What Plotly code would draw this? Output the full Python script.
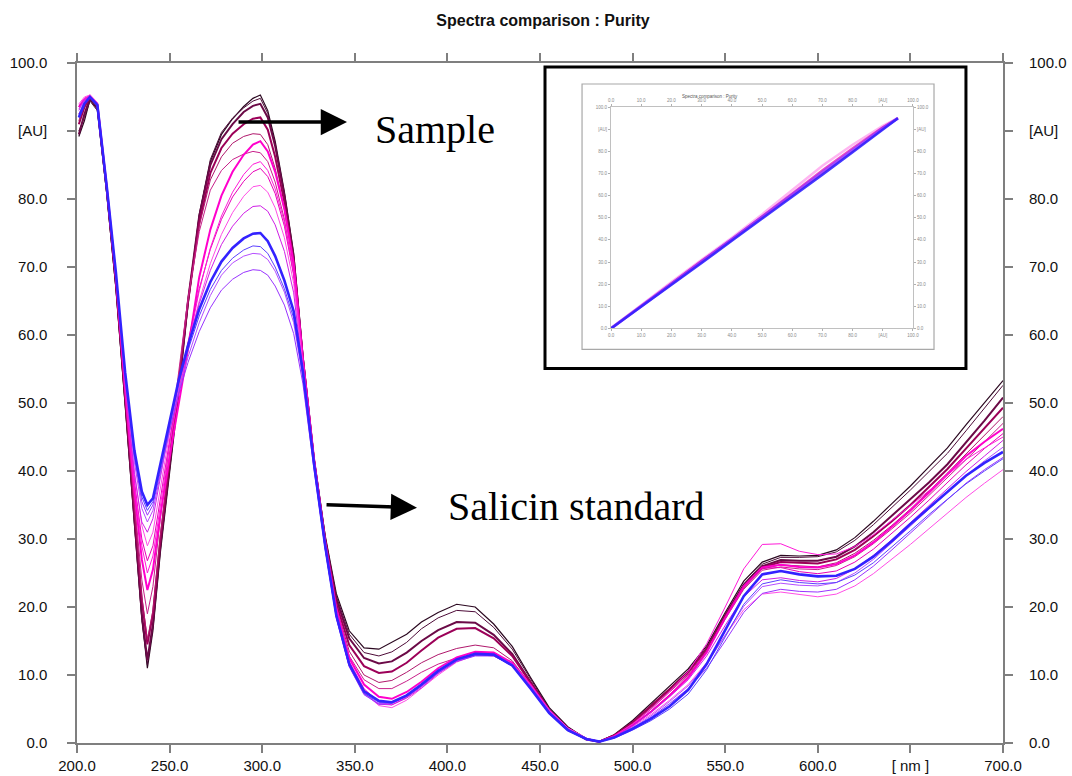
import plotly.graph_objects as go

# ---------------- data ----------------
wavelength = [201, 204, 207, 211, 216, 221, 226, 231, 235, 238, 241, 245, 250, 255, 260, 266, 272, 278, 284, 290,
              295, 299, 303, 307, 312, 317, 322, 328, 334, 340, 347, 355, 363, 370, 378, 386, 395, 405, 415, 425,
              435, 445, 455, 465, 475, 482, 490, 500, 510, 520, 530, 540, 550, 560, 570, 580, 590, 600, 610, 620,
              630, 640, 650, 660, 670, 680, 690, 700]

sample_d1 = [89.2, 91.5, 94.6, 93.2, 81, 67, 50, 32, 18.5, 11, 16.5, 28, 39.5, 51.5, 64.5, 77.5, 85.5, 89.5, 91.8, 93.6,
             94.8, 95.3, 93, 88.5, 81, 72, 57, 42, 30.5, 22, 16.5, 14, 13.8, 14.8, 16, 17.8, 19.2, 20.4, 20, 17.5,
             14.2, 9.6, 5.2, 2.4, 0.6, 0.2, 1.2, 3.3, 5.8, 8.3, 10.9, 14.3, 19.2, 23.8, 26.6, 27.6, 27.5, 27.6, 28.4, 30.2,
             32.6, 35.2, 37.8, 40.6, 43.4, 46.8, 50.1, 53.3]
sample_d2 = [90, 92, 94.4, 93, 80.8, 66.8, 49.5, 31.5, 18, 11.5, 17, 28.5, 40, 52, 65, 77.8, 85.8, 89.8, 91.9, 93.4,
             94.4, 94.8, 92.6, 88, 80.6, 71.5, 56.8, 41.8, 30.2, 21.6, 16, 13.3, 12.8, 13.4, 14.8, 16.8, 18.4, 19.5, 19.3, 17,
             13.8, 9.3, 5, 2.3, 0.6, 0.2, 1.1, 3.1, 5.5, 8, 10.6, 14, 18.9, 23.4, 26.3, 27.3, 27.3, 27.4, 28.1, 29.8,
             32.1, 34.6, 37.2, 39.9, 42.6, 45.9, 49.2, 52.6]
sample_d3 = [89.5, 92.5, 94.8, 93.5, 81.5, 67.5, 50.5, 32.5, 19, 12.2, 17.5, 29, 40.5, 52.5, 65.2, 77.5, 85, 88.8, 91, 92.8,
             93.7, 94, 92, 87.8, 80.5, 71.4, 56.5, 41.5, 30, 21.2, 15.4, 12.5, 11.7, 12, 13.3, 15, 16.6, 17.8, 17.7, 15.9,
             13.1, 8.9, 4.8, 2.2, 0.6, 0.2, 1.1, 3, 5.4, 7.9, 10.5, 13.9, 18.8, 23.2, 26, 26.9, 26.8, 26.8, 27.4, 28.9,
             31, 33.4, 35.8, 38.3, 41, 44.2, 47.4, 50.8]
sample_c1 = [91, 93.5, 95, 93.8, 81.8, 68, 51, 34, 21, 14.5, 19, 30, 41.5, 53, 65, 76.5, 83.8, 87.5, 89.6, 91,
             91.8, 92, 90.2, 86.2, 79.5, 70.8, 56.3, 41.5, 29.8, 20.5, 14.4, 11.3, 10.3, 10.5, 11.8, 13.6, 15.5, 16.8, 16.9, 15.4,
             12.8, 8.8, 4.8, 2.1, 0.5, 0.2, 1.1, 3, 5.4, 7.9, 10.4, 13.8, 18.6, 23, 25.8, 26.6, 26.5, 26.4, 27, 28.4,
             30.4, 32.6, 35, 37.6, 40.3, 43.3, 46.3, 49.3]
sample_c2 = [91.5, 93.8, 95, 93.6, 81.6, 67.8, 51, 34.5, 21.5, 15.2, 19.5, 30.5, 42, 53.5, 65, 76, 82.8, 86.2, 88.2, 89.2,
             89.6, 89.5, 88, 84.5, 78.4, 70, 56, 41.3, 29.5, 20, 13.5, 10, 8.9, 9.2, 10.4, 11.8, 13, 13.9, 14.4, 14,
             12.1, 8.5, 4.7, 2.1, 0.5, 0.2, 1, 2.9, 5.2, 7.7, 10.2, 13.6, 18.4, 22.8, 25.6, 26.2, 26, 25.9, 26.5, 27.9,
             29.8, 32, 34.4, 37, 39.7, 42.5, 45.2, 48]
sample_c3 = [92.5, 94, 95, 93.8, 81.8, 68.2, 51.5, 35.5, 24, 19, 23, 33, 44, 55, 65.5, 75.2, 81.3, 84.2, 85.8, 86.6,
             87, 86.8, 85.5, 82.5, 77, 69, 55.5, 41, 29, 19.4, 12.8, 9.3, 8, 8, 9.1, 10.4, 11.6, 12.5, 13, 12.8,
             11.4, 8.2, 4.6, 2, 0.5, 0.2, 1, 2.8, 5, 7.5, 10, 13.4, 18.2, 22.6, 25.4, 25.9, 25.6, 25.5, 26.1, 27.4,
             29.3, 31.5, 33.8, 36.4, 39, 41.7, 44.3, 47]
sample_m1 = [93.5, 94.5, 95.2, 94, 82, 68.5, 52, 37, 27, 22.5, 25.5, 33.5, 42, 50, 58, 68.5, 75.5, 80.5, 84, 86.5,
             88, 88.5, 87, 84, 78.5, 70.5, 56.5, 41.8, 29.6, 19.8, 12.5, 8.6, 6.8, 6.5, 7.5, 9, 11, 12.6, 13.4, 13.3,
             11.8, 8.5, 4.8, 2.1, 0.6, 0.2, 1, 2.6, 4.6, 7, 9.6, 13.3, 18.4, 23, 25.8, 26.2, 25.9, 25.8, 26.3, 27.6,
             29.5, 31.8, 34.2, 36.8, 39.5, 42.2, 44.3, 46.2]
sample_m5 = [93.6, 94.8, 95.2, 94, 82, 68.6, 52.8, 38.5, 30, 26.8, 29, 36, 44.5, 52, 59, 66.8, 72.6, 77, 80.3, 82.6,
             84, 84.5, 83.3, 80.8, 76, 68.8, 55.6, 41.2, 29.1, 19.1, 11.8, 7.8, 6.2, 6, 7, 8.6, 10.6, 12.3, 13.2, 13.1,
             11.7, 8.4, 4.7, 2.1, 0.6, 0.2, 1, 2.6, 4.7, 7.1, 9.8, 13.5, 18.4, 23.2, 25.7, 25.8, 25.2, 24.9, 25.3, 26.6,
             28.5, 30.8, 33.2, 35.7, 38.3, 40.9, 43.3, 45.5]
sample_m2 = [93.8, 94.8, 95.2, 94, 82, 68.5, 52.5, 38, 29, 25, 27.5, 35, 44, 51.5, 58.5, 66.5, 72.8, 77.5, 81, 83.6,
             85.1, 85.5, 84.2, 81.5, 76.6, 69.2, 55.8, 41.3, 29.2, 19.3, 12, 8, 6, 5.6, 6.7, 8.3, 10.4, 12.2, 13.1, 13.1,
             11.7, 8.5, 4.8, 2.2, 0.7, 0.2, 1, 2.8, 5, 7.6, 10.5, 14.6, 20, 25.6, 29.2, 29.3, 28.2, 27.7, 27.8, 28.9,
             30.6, 32.7, 34.9, 37.1, 39.4, 41.7, 43.4, 45]
sample_m3 = [94, 95, 95.3, 94.2, 82.3, 69, 53.5, 40, 32, 29, 31, 37.5, 45.5, 52.5, 58.5, 65, 70.5, 74.8, 78, 80.4,
             81.8, 82, 81, 78.7, 74.3, 67.6, 55, 40.8, 28.8, 18.8, 11.5, 7.4, 5.5, 5.2, 6.3, 8, 10, 11.9, 12.9, 12.9,
             11.6, 8.4, 4.8, 2.2, 0.7, 0.2, 0.9, 2.4, 4.2, 6.3, 8.6, 11.8, 15.8, 19.6, 21.9, 22.2, 21.8, 21.5, 21.9, 23.1,
             24.9, 27, 29.2, 31.5, 33.8, 36.1, 38.2, 40.2]
sample_m4 = [93.2, 94.6, 95.1, 94, 82, 68.8, 53, 39.5, 32.5, 31, 33, 39, 46.5, 53, 58.8, 64.6, 69.5, 73.3, 76, 77.9,
             78.9, 79, 78.2, 76.2, 72.3, 66.2, 54.2, 40.5, 28.6, 18.6, 11.3, 7.3, 5.7, 5.6, 6.6, 8.1, 10.2, 12, 13, 13,
             11.6, 8.4, 4.7, 2.1, 0.6, 0.2, 0.9, 2.5, 4.5, 6.8, 9.3, 12.8, 17.3, 21.5, 24, 24.3, 23.9, 23.7, 24.2, 25.6,
             27.6, 29.9, 32.4, 34.9, 37.4, 39.9, 42.2, 44.5]
standard_p2 = [93, 94.4, 95, 93.9, 82, 69, 53.8, 41.3, 34.5, 32.5, 34.2, 39.5, 46, 52, 56.8, 61.8, 65.8, 68.8, 70.6, 71.6,
               72, 71.9, 71.1, 69.4, 66.3, 61.8, 53.6, 40.5, 28.6, 18.5, 11.3, 7.2, 5.8, 5.9, 6.9, 8.4, 10.4, 12.1, 12.9, 12.9,
               11.5, 8.2, 4.6, 2, 0.6, 0.2, 0.8, 2.2, 4, 6.1, 8.4, 11.6, 15.8, 20.1, 23, 23.5, 23.2, 23.1, 23.6, 25,
               27, 29.4, 31.9, 34.4, 36.9, 39.3, 41.5, 43.5]
standard_p1 = [92.5, 94.2, 95, 93.8, 82, 69, 54, 42, 35.5, 33.5, 35, 40, 46, 51.5, 56, 60.5, 64, 66.6, 68.2, 69.2,
               69.6, 69.5, 68.8, 67.2, 64.4, 60.2, 52.8, 40.2, 28.5, 18.4, 11.2, 7.1, 5.7, 5.8, 6.8, 8.3, 10.3, 12, 12.8, 12.8,
               11.4, 8.1, 4.5, 2, 0.5, 0.2, 0.8, 2.1, 3.8, 5.8, 8, 11, 15, 19.2, 22, 22.6, 22.3, 22.2, 22.6, 24,
               26, 28.4, 30.9, 33.4, 35.8, 38.2, 40.2, 42]
standard_b2 = [92.3, 94.2, 95, 93.8, 82, 69, 54.2, 42.5, 36.2, 34.2, 35.5, 40.5, 47, 53, 57.8, 62.8, 66.7, 69.5, 71.3, 72.5,
               73.1, 73, 72, 70, 66.8, 62.5, 54.2, 40.8, 28.8, 18.6, 11.4, 7.3, 6, 5.9, 6.9, 8.5, 10.5, 12.2, 13, 12.9,
               11.3, 7.9, 4.3, 1.8, 0.5, 0.2, 0.7, 1.9, 3.3, 5, 7.2, 10.8, 15.6, 20.4, 23.4, 24, 23.6, 23.4, 23.6, 24.7,
               26.5, 28.8, 31.2, 33.6, 35.9, 38.1, 40, 41.8]
standard_b1 = [92, 94, 95, 93.8, 82, 69.2, 54.5, 43, 37, 35, 36, 41, 47.5, 53.5, 58.5, 63.8, 67.8, 70.8, 72.8, 74.2,
               74.9, 75, 73.8, 71.6, 68, 63.5, 54.6, 41, 29, 18.8, 11.6, 7.6, 6.2, 6, 7, 8.6, 10.6, 12.3, 13.1, 13,
               11.4, 8, 4.4, 1.9, 0.6, 0.2, 0.8, 2.1, 3.6, 5.4, 7.8, 11.6, 16.6, 21.6, 24.8, 25.3, 24.8, 24.5, 24.6, 25.6,
               27.4, 29.7, 32.2, 34.6, 37, 39.3, 41.2, 42.8]

x_tickvals = [200, 250, 300, 350, 400, 450, 500, 550, 600, 650, 700]
x_ticktext = ["200.0", "250.0", "300.0", "350.0", "400.0", "450.0", "500.0", "550.0", "600.0", "[ nm ]", "700.0"]
y_tickvals = [0, 10, 20, 30, 40, 50, 60, 70, 80, 90, 100]
y_ticktext = ["0.0", "10.0", "20.0", "30.0", "40.0", "50.0", "60.0", "70.0", "80.0", "[AU]", "100.0"]

# inset (purity plot): standard vs sample absorbance
inset_std = [0, 10, 20, 30, 40, 50, 60, 70, 80, 90, 95]
inset_pink = [0, 10.3, 20.5, 30.6, 40.4, 50.6, 61, 71.5, 81.5, 91, 95]
inset_light = [0, 10.6, 21, 31, 41, 51.5, 62.5, 73.5, 83, 91.5, 95]
inset_purple = [0, 10, 20.2, 30.2, 40.2, 50.2, 60.4, 70.6, 80.6, 90.4, 95]
inset_blue = [0, 9.7, 19.6, 29.5, 39.6, 49.4, 59.3, 69.4, 79.6, 89.6, 95]
inset_tickvals = [0, 10, 20, 30, 40, 50, 60, 70, 80, 90, 100]
inset_ticktext = ["0.0", "10.0", "20.0", "30.0", "40.0", "50.0", "60.0", "70.0", "80.0", "[AU]", "100.0"]

# ---------------- figure ----------------
series = [
    (sample_d1, "#2b0820", 1.2),
    (sample_d2, "#4d0b38", 1.0),
    (sample_d3, "#6b0a47", 2.0),
    (sample_c1, "#9c0058", 2.0),
    (sample_c2, "#b0186c", 1.0),
    (sample_c3, "#c8208a", 1.0),
    (sample_m1, "#ff00cc", 2.0),
    (sample_m5, "#e800b8", 1.0),
    (sample_m2, "#ff1ad9", 1.0),
    (sample_m3, "#ff4de6", 1.0),
    (sample_m4, "#d01ee6", 1.0),
    (standard_p2, "#b54dff", 1.0),
    (standard_p1, "#9933ff", 1.0),
    (standard_b2, "#5c40ff", 1.0),
    (standard_b1, "#3322ff", 2.6),
]

fig = go.Figure()
for vals, col, w in series:
    fig.add_trace(go.Scatter(x=wavelength, y=vals, mode="lines",
                             line=dict(color=col, width=w), showlegend=False,
                             hoverinfo="skip"))

# dummy trace for the right-hand axis labels
fig.add_trace(go.Scatter(x=[None], y=[None], yaxis="y3", mode="lines", showlegend=False, hoverinfo="skip"))

inset_series = [
    (inset_light, "rgba(255,120,230,0.55)", 2.5),
    (inset_pink, "rgba(230,0,170,0.7)", 2.0),
    (inset_std, "rgba(110,10,70,0.6)", 1.5),
    (inset_purple, "rgba(150,50,255,0.85)", 3.0),
    (inset_blue, "rgba(50,34,255,0.9)", 2.5),
]
for vals, col, w in inset_series:
    fig.add_trace(go.Scatter(x=inset_std, y=vals, xaxis="x2", yaxis="y2", mode="lines",
                             line=dict(color=col, width=w), showlegend=False, hoverinfo="skip"))
fig.add_trace(go.Scatter(x=[None], y=[None], xaxis="x4", yaxis="y4", mode="lines",
                         showlegend=False, hoverinfo="skip"))

axis_col = "#7f7f7f"
tickfont = dict(family="Liberation Sans, Arial, sans-serif", size=15, color="#111111")
inset_font = dict(family="Liberation Sans, Arial, sans-serif", size=4.5, color="#8a8a8a")

inset_xdom = [0.5767, 0.9028]
inset_ydom = [0.6097, 0.9352]

common_main = dict(ticks="outside", ticklen=8, tickwidth=1.5, tickcolor=axis_col, showgrid=False,
                   zeroline=False, tickfont=tickfont, automargin=False)
common_inset = dict(range=[0, 100], tickvals=inset_tickvals, ticktext=inset_ticktext, ticks="outside",
                    ticklen=2, tickcolor="#b0b0b0", showgrid=False, zeroline=False, tickfont=inset_font,
                    automargin=False)

fig.update_layout(
    width=1072, height=776,
    margin=dict(l=77, r=69, t=63, b=33),
    paper_bgcolor="white", plot_bgcolor="white",
    title=dict(text="<b>Spectra comparison : Purity</b>", x=543 / 1072, xanchor="center",
               y=1 - 20 / 776, yanchor="middle",
               font=dict(family="Liberation Sans, Arial, sans-serif", size=16, color="#111111")),
    xaxis=dict(range=[200, 700], tickvals=x_tickvals, ticktext=x_ticktext, showline=True, linecolor=axis_col,
               linewidth=1.5, mirror="ticks", ticklabelstandoff=0, **common_main),
    yaxis=dict(range=[0, 100], tickvals=y_tickvals, ticktext=y_ticktext, showline=True, linecolor=axis_col,
               linewidth=1.5, mirror="ticks", ticklabelstandoff=17, **common_main),
    yaxis3=dict(range=[0, 100], overlaying="y", side="right", anchor="x", tickvals=y_tickvals,
                ticktext=y_ticktext, showline=False, ticklabelstandoff=14, **common_main),
    xaxis2=dict(domain=inset_xdom, anchor="y2", showline=True, linecolor="#c0c0c0", linewidth=1, mirror=True,
                **common_inset),
    yaxis2=dict(domain=inset_ydom, anchor="x2", showline=True, linecolor="#c0c0c0", linewidth=1, mirror=True,
                **common_inset),
    xaxis4=dict(overlaying="x2", side="top", anchor="y2", showline=False, **common_inset),
    yaxis4=dict(overlaying="y2", side="right", anchor="x2", showline=False, **common_inset),
    shapes=[
        dict(type="rect", xref="paper", yref="paper", x0=0.5054, x1=0.9600, y0=0.5508, y1=0.9941,
             line=dict(color="black", width=3), fillcolor="white", layer="below"),
        dict(type="rect", xref="paper", yref="paper", x0=0.5454, x1=0.9255, y0=0.5788, y1=0.9691,
             line=dict(color="#a8a8a8", width=1.2), fillcolor="white", layer="below"),
    ],
    annotations=[
        dict(text="Spectra comparison : Purity", xref="paper", yref="paper", x=0.716, y=0.957,
             showarrow=False, font=dict(family="Liberation Sans, Arial, sans-serif", size=4.5, color="#555555")),
        dict(text="Sample", xref="paper", yref="paper", x=0.3866, y=0.9028, xanchor="center", yanchor="middle",
             showarrow=False, font=dict(family="Liberation Serif, Times New Roman, serif", size=40, color="black")),
        dict(text="Salicin standard", xref="paper", yref="paper", x=0.5389, y=0.3476, xanchor="center",
             yanchor="middle", showarrow=False,
             font=dict(family="Liberation Serif, Times New Roman, serif", size=40, color="black")),
        dict(text="", xref="paper", yref="paper", x=0.2916, y=0.9131, ax=-110, ay=0, showarrow=True,
             arrowhead=2, arrowsize=1.5, arrowwidth=3.5, arrowcolor="black"),
        dict(text="", xref="paper", yref="paper", x=0.3672, y=0.3461, ax=-92, ay=-3, showarrow=True,
             arrowhead=2, arrowsize=1.5, arrowwidth=3.5, arrowcolor="black"),
    ],
)

fig.write_html("out.html", config={"displayModeBar": False},
               post_script="document.body.style.margin='0';document.body.style.overflow='hidden';")
